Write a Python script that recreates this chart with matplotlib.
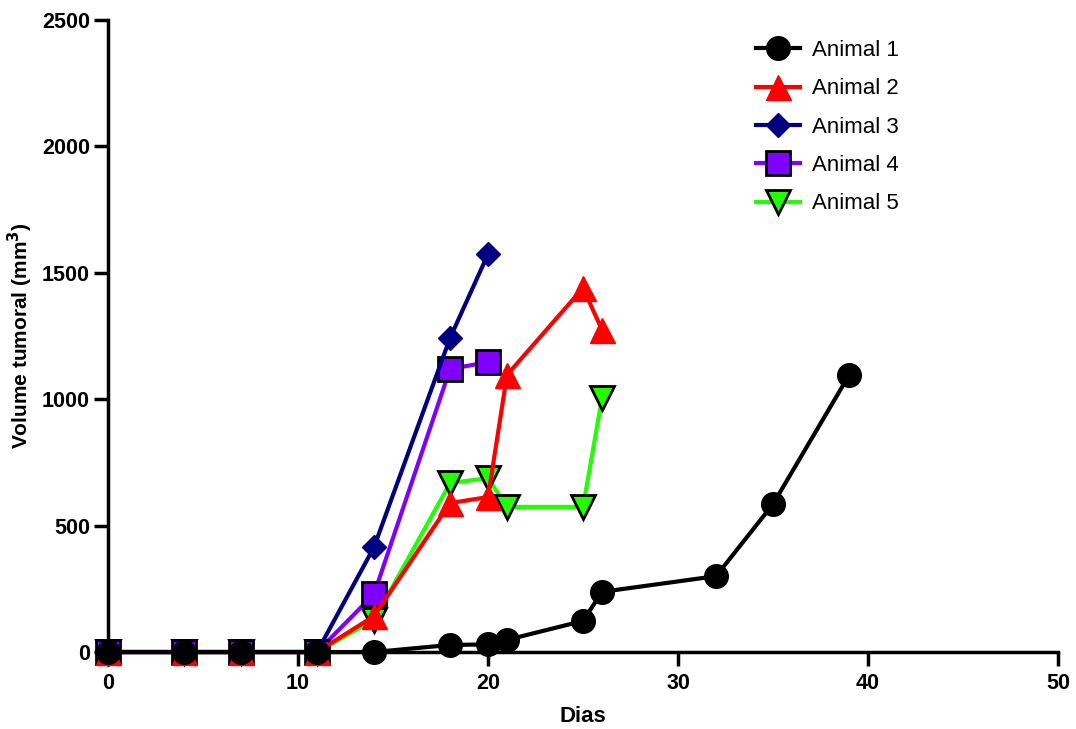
import matplotlib.pyplot as plt

plt.rcParams['font.family'] = ['Liberation Sans', 'DejaVu Sans']

# dias e volumes tumorais (mm3)
dias_1 = [0, 4, 7, 11, 14, 18, 20, 21, 25, 26, 32, 35, 39]
animal_1 = [0, 0, 0, 0, 0, 28, 30, 48, 123, 238, 300, 585, 1095]

dias_2 = [0, 4, 7, 11, 14, 18, 20, 21, 25, 26]
animal_2 = [0, 0, 0, 0, 142, 589, 613, 1096, 1440, 1274]

dias_3 = [0, 4, 7, 11, 14, 18, 20]
animal_3 = [0, 0, 0, 0, 415, 1242, 1574]

dias_4 = [0, 4, 7, 11, 14, 18, 20]
animal_4 = [0, 0, 0, 0, 229, 1119, 1147]

dias_5 = [0, 4, 7, 11, 14, 18, 20, 21, 25, 26]
animal_5 = [0, 0, 0, 0, 127, 668, 688, 574, 574, 1005]

fig = plt.figure(figsize=(10.76, 7.29), dpi=100)
ax = fig.add_axes([0.1004, 0.1056, 0.8829, 0.867])

lw = 3
l5, = ax.plot(dias_5, animal_5, color='#22FF00', lw=lw, marker='v', ms=17,
              mfc='#22FF00', mec='black', mew=2, clip_on=False, zorder=3)
l4, = ax.plot(dias_4, animal_4, color='#7F00FF', lw=lw, marker='s', ms=17,
              mfc='#7F00FF', mec='black', mew=2, clip_on=False, zorder=4)
l3, = ax.plot(dias_3, animal_3, color='#000080', lw=lw, marker='D', ms=12,
              mfc='#000080', mec='#000080', clip_on=False, zorder=5)
l2, = ax.plot(dias_2, animal_2, color='#FF0000', lw=lw, marker='^', ms=18,
              mfc='#FF0000', mec='#FF0000', clip_on=False, zorder=6)
l1, = ax.plot(dias_1, animal_1, color='black', lw=lw, marker='o', ms=17,
              mfc='black', mec='black', clip_on=False, zorder=7)

ax.set_xlim(0, 50)
ax.set_ylim(0, 2500)
ax.set_xticks([0, 10, 20, 30, 40, 50])
ax.set_yticks([0, 500, 1000, 1500, 2000, 2500])

ax.spines['top'].set_visible(False)
ax.spines['right'].set_visible(False)
for s in ['left', 'bottom']:
    ax.spines[s].set_linewidth(2.5)
    ax.spines[s].set_zorder(2)
ax.tick_params(axis='both', direction='out', length=10, width=2.5, labelsize=15.5)
ax.tick_params(axis='x', pad=5)
ax.tick_params(axis='y', pad=3)
for lab in ax.get_xticklabels() + ax.get_yticklabels():
    lab.set_fontweight('bold')

ax.set_xlabel('Dias', fontsize=16, fontweight='bold', labelpad=9)
ax.set_ylabel('Volume tumoral (mm$\\mathbf{^3}$)', fontsize=15, fontweight='bold', labelpad=5)

ax.legend([l1, l2, l3, l4, l5], ['Animal 1', 'Animal 2', 'Animal 3', 'Animal 4', 'Animal 5'],
          loc='upper right', bbox_to_anchor=(0.853, 1.0), frameon=False,
          fontsize=16, handlelength=2.0, labelspacing=0.78, handletextpad=0.5)

fig.savefig('out.png', dpi=100)
